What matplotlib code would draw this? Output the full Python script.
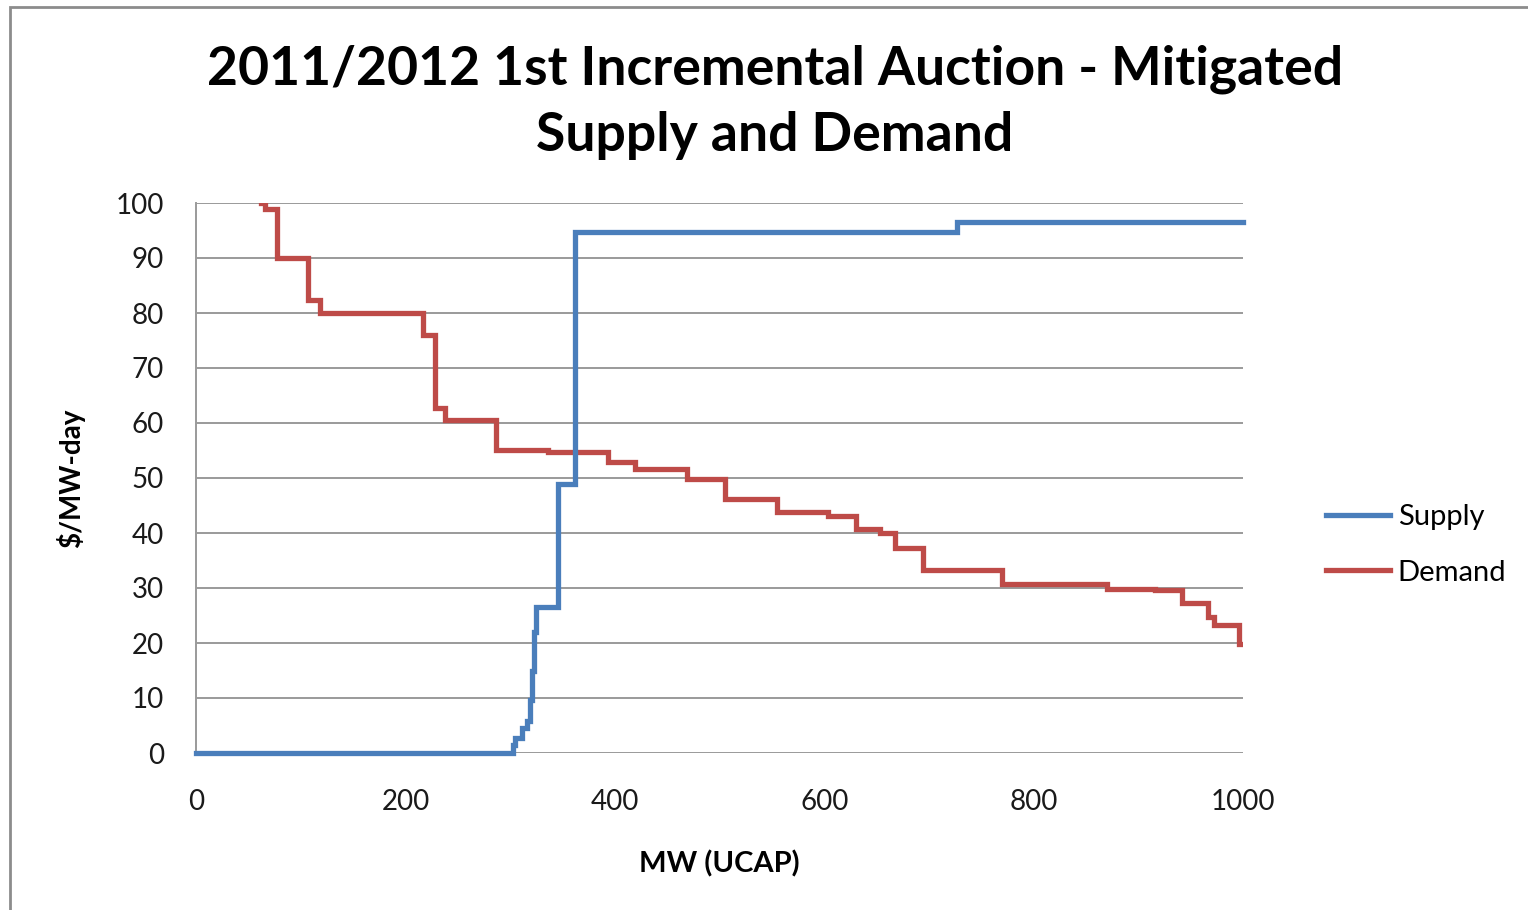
import matplotlib
matplotlib.use("Agg")
import matplotlib.pyplot as plt
from matplotlib.patches import Rectangle

plt.rcParams['font.family'] = ['Lato', 'DejaVu Sans']

title = "2011/2012 1st Incremental Auction - Mitigated\nSupply and Demand"
x_label = "MW (UCAP)"
y_label = "$/MW-day"
x_ticks = [0, 200, 400, 600, 800, 1000]
y_ticks = [0, 10, 20, 30, 40, 50, 60, 70, 80, 90, 100]

supply_mw = [0, 303, 305, 311, 316, 319, 321, 323, 325, 346, 362, 727, 1000]
supply_price = [0, 1.5, 2.8, 4.5, 5.8, 9.7, 15, 22, 26.6, 49, 94.7, 96.6, 96.6]

demand_mw = [62, 66, 77.5, 107, 118, 217, 228, 238, 287, 336, 393.5, 419, 469,
             505, 555, 604, 630, 653, 668, 694, 770, 870, 916, 942, 967, 972,
             996.5, 1000]
demand_price = [100, 98.9, 90, 82.4, 80, 76, 62.7, 60.6, 55.1, 54.8, 52.9, 51.6,
                49.9, 46.2, 43.9, 43.1, 40.7, 40, 37.2, 33.3, 30.7, 29.9, 29.6,
                27.3, 24.8, 23.3, 19.8, 19.8]

fig = plt.figure(figsize=(15.28, 9.10), dpi=100)
ax = fig.add_axes([196/1528, 1-753/910, (1243-196)/1528, (753-203)/910])

# outer chart border
fig.patches.append(Rectangle((10/1528, -0.02), 1.1, 1-7/910+0.02,
                             transform=fig.transFigure, fill=False,
                             edgecolor='#8c8c8c', linewidth=2.0, zorder=0))

ax.step(supply_mw, supply_price, where='post', color='#4a7ebb', linewidth=3.8,
        label='Supply', clip_on=False, zorder=4, solid_joinstyle='miter')
ax.step(demand_mw, demand_price, where='post', color='#be4b48', linewidth=3.8,
        label='Demand', zorder=3, solid_joinstyle='miter')

ax.set_xlim(0, 1000)
ax.set_ylim(0, 100)
ax.set_xticks(x_ticks)
ax.set_yticks(y_ticks)
ax.tick_params(axis='both', length=0, labelsize=20, colors='#1a1a1a')
ax.tick_params(axis='x', pad=26)
ax.tick_params(axis='y', pad=23)
ax.grid(axis='y', color='#9a9a9a', linewidth=1.4)
ax.set_axisbelow(True)
for s in ['top', 'right', 'bottom']:
    ax.spines[s].set_visible(False)
ax.spines['left'].set_color('#9a9a9a')
ax.spines['left'].set_linewidth(1.4)

ax.set_xlabel(x_label, fontsize=21, fontweight='bold', labelpad=25)
ax.set_ylabel(y_label, fontsize=20, fontweight='bold', labelpad=22)

fig.text(775/1528, 1-102/910, title, ha='center', va='center', fontsize=38.5,
         fontweight='bold', linespacing=1.42)

leg = fig.legend(loc='center left', bbox_to_anchor=(1300/1528, 1-545/910),
                 frameon=False, fontsize=21, handlelength=2.2, handletextpad=0.25,
                 labelspacing=1.0)

fig.savefig("out.png", dpi=100)
